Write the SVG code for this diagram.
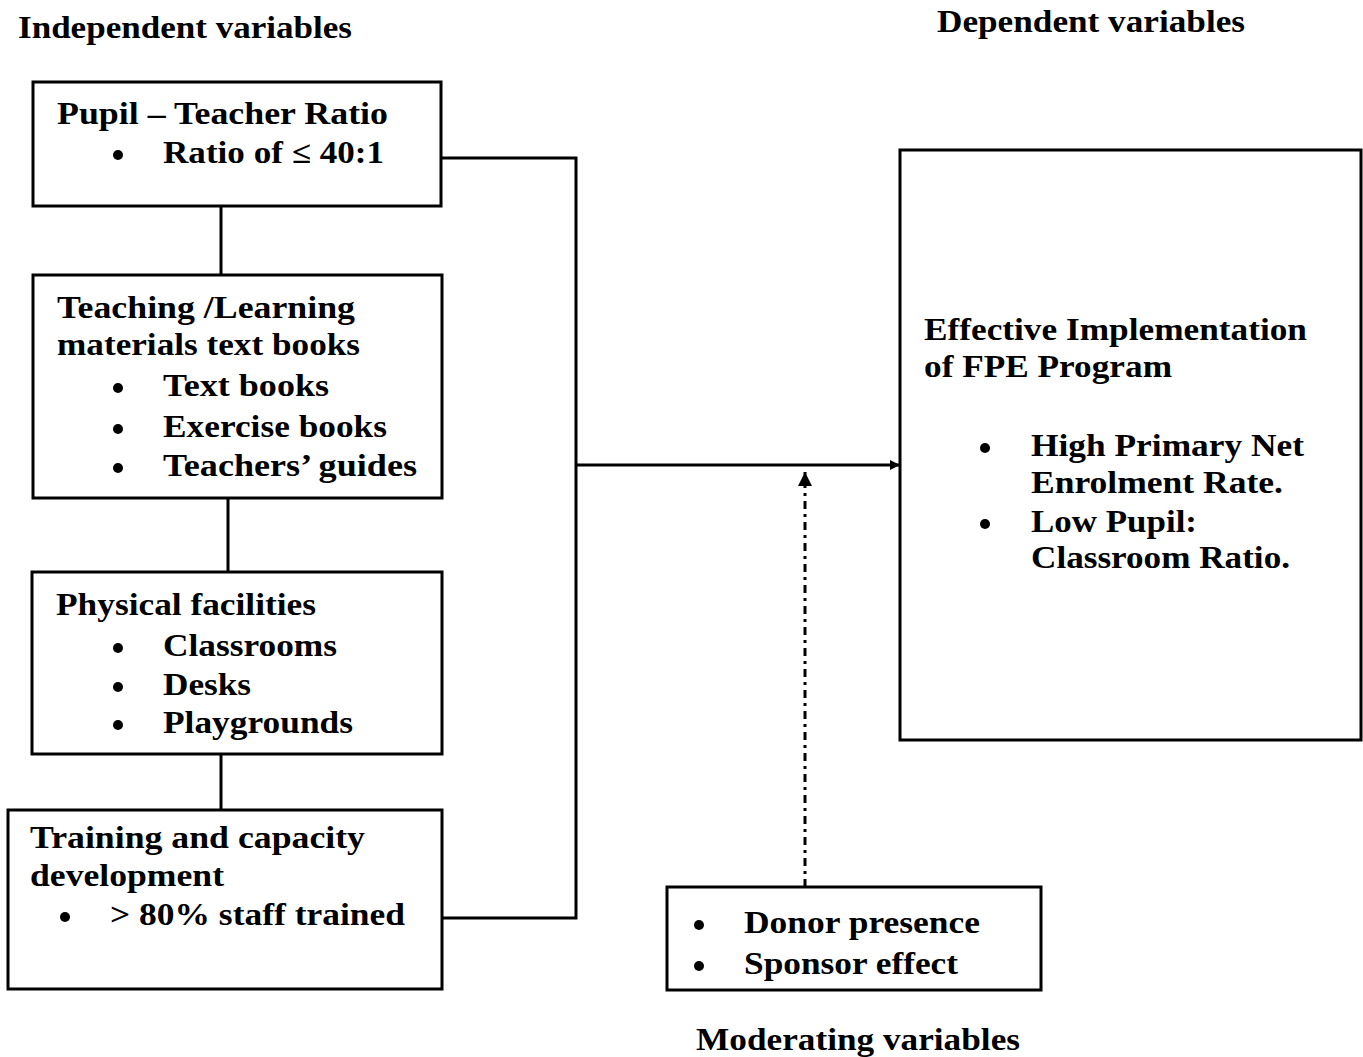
<svg xmlns="http://www.w3.org/2000/svg" width="1363" height="1057" viewBox="0 0 1363 1057">
<style>
.box{fill:#fff;stroke:#000;stroke-width:3}
.ln{fill:none;stroke:#000;stroke-width:3}
.dot{fill:none;stroke:#000;stroke-width:3;stroke-dasharray:8 5 3 5}
text{font-family:"Liberation Serif","Times New Roman",serif;font-weight:bold;font-size:31px;fill:#000}
.b{fill:#000}
</style>
<defs>
<marker id="ah" markerWidth="10" markerHeight="10" refX="9" refY="5" orient="auto" markerUnits="userSpaceOnUse">
<path d="M0,0 L10,5 L0,10 z" fill="#000"/>
</marker>
<marker id="ah2" markerWidth="16" markerHeight="16" refX="14" refY="8" orient="auto" markerUnits="userSpaceOnUse">
<path d="M0,1 L14,8 L0,15 z" fill="#000"/>
</marker>
</defs>
<rect width="1363" height="1057" fill="#fff"/>
<text x="18" y="38" textLength="334" lengthAdjust="spacingAndGlyphs">Independent variables</text>
<text x="937" y="32" textLength="308" lengthAdjust="spacingAndGlyphs">Dependent variables</text>
<text x="696" y="1050" textLength="324" lengthAdjust="spacingAndGlyphs">Moderating variables</text>
<g id="connectors">
<path class="ln" d="M221,206 V275"/>
<path class="ln" d="M228,498 V572"/>
<path class="ln" d="M221,754 V810"/>
<path class="ln" d="M441,158 H576 V918 H442"/>
<path class="ln" d="M576,465 H899" marker-end="url(#ah)"/>
<path class="dot" d="M805,887 V472" marker-end="url(#ah2)"/>
</g>
<g id="node-pupil-teacher">
<rect class="box" x="33" y="82" width="408" height="124"/>
<text x="57" y="124" textLength="331" lengthAdjust="spacingAndGlyphs">Pupil – Teacher Ratio</text>
<circle class="b" cx="118" cy="155" r="5"/>
<text x="163" y="163" textLength="221" lengthAdjust="spacingAndGlyphs">Ratio of ≤ 40:1</text>
</g>
<g id="node-materials">
<rect class="box" x="33" y="275" width="409" height="223"/>
<text x="57" y="318" textLength="298" lengthAdjust="spacingAndGlyphs">Teaching /Learning</text>
<text x="57" y="355" textLength="303" lengthAdjust="spacingAndGlyphs">materials text books</text>
<circle class="b" cx="118" cy="388" r="5"/>
<text x="163" y="396" textLength="166" lengthAdjust="spacingAndGlyphs">Text books</text>
<circle class="b" cx="118" cy="429" r="5"/>
<text x="163" y="437" textLength="224" lengthAdjust="spacingAndGlyphs">Exercise books</text>
<circle class="b" cx="118" cy="468" r="5"/>
<text x="163" y="476" textLength="254" lengthAdjust="spacingAndGlyphs">Teachers’ guides</text>
</g>
<g id="node-facilities">
<rect class="box" x="32" y="572" width="410" height="182"/>
<text x="56" y="615" textLength="260" lengthAdjust="spacingAndGlyphs">Physical facilities</text>
<circle class="b" cx="118" cy="648" r="5"/>
<text x="163" y="656" textLength="174" lengthAdjust="spacingAndGlyphs">Classrooms</text>
<circle class="b" cx="118" cy="687" r="5"/>
<text x="163" y="695" textLength="88" lengthAdjust="spacingAndGlyphs">Desks</text>
<circle class="b" cx="118" cy="725" r="5"/>
<text x="163" y="733" textLength="190" lengthAdjust="spacingAndGlyphs">Playgrounds</text>
</g>
<g id="node-training">
<rect class="box" x="8" y="810" width="434" height="179"/>
<text x="30" y="848" textLength="335" lengthAdjust="spacingAndGlyphs">Training and capacity</text>
<text x="30" y="886" textLength="194" lengthAdjust="spacingAndGlyphs">development</text>
<circle class="b" cx="65" cy="917" r="5"/>
<text x="110" y="925" textLength="295" lengthAdjust="spacingAndGlyphs">&gt; 80% staff trained</text>
</g>
<g id="node-dependent">
<rect class="box" x="900" y="150" width="461" height="590"/>
<text x="924" y="340" textLength="383" lengthAdjust="spacingAndGlyphs">Effective Implementation</text>
<text x="924" y="377" textLength="248" lengthAdjust="spacingAndGlyphs">of FPE Program</text>
<circle class="b" cx="985" cy="448" r="5"/>
<text x="1031" y="456" textLength="273" lengthAdjust="spacingAndGlyphs">High Primary Net</text>
<text x="1031" y="493" textLength="252" lengthAdjust="spacingAndGlyphs">Enrolment Rate.</text>
<circle class="b" cx="985" cy="524" r="5"/>
<text x="1031" y="532" textLength="166" lengthAdjust="spacingAndGlyphs">Low Pupil:</text>
<text x="1031" y="568" textLength="259" lengthAdjust="spacingAndGlyphs">Classroom Ratio.</text>
</g>
<g id="node-moderating">
<rect class="box" x="667" y="887" width="374" height="103"/>
<circle class="b" cx="699" cy="925" r="5"/>
<text x="744" y="933" textLength="236" lengthAdjust="spacingAndGlyphs">Donor presence</text>
<circle class="b" cx="699" cy="966" r="5"/>
<text x="744" y="974" textLength="214" lengthAdjust="spacingAndGlyphs">Sponsor effect</text>
</g>
</svg>
